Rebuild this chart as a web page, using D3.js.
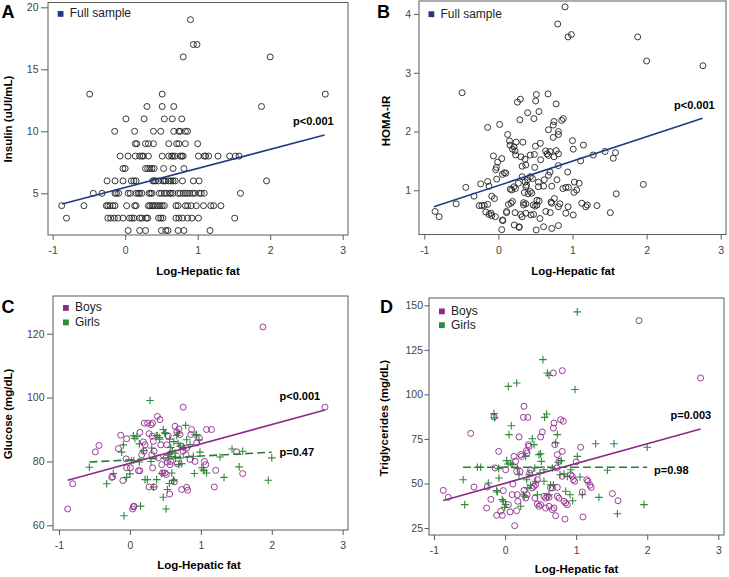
<!DOCTYPE html>
<html>
<head>
<meta charset="utf-8">
<script src="https://cdn.jsdelivr.net/npm/d3@7"></script>
<style>
  body { margin: 0; background: #fff; }
  svg { font-family: "Liberation Sans", Arial, sans-serif; }
</style>
</head>
<body>
<svg id="chart" width="729" height="577"></svg>
<script>
// ---- data ----
var xTicks = [-1, 0, 1, 2, 3];
var insulinTicks = [5, 10, 15, 20];
var homaTicks = [1, 2, 3, 4];
var glucoseTicks = [60, 80, 100, 120];
var tgTicks = [25, 50, 75, 100, 125, 150];

// Insulin is integer valued: [insulin, [log hepatic fat ...]]
var insulinRows = [
  [19, [0.90]],
  [17, [0.94, 0.99]],
  [16, [0.80, 2.00]],
  [13, [-0.49, 0.51, 2.76]],
  [12, [0.30, 0.51, 0.67, 1.88]],
  [11, [0.01, 0.26, 0.54, 0.65, 0.78]],
  [10, [-0.145, 0.13, 0.39, 0.49, 0.67, 0.74, 0.76, 0.83, 0.86]],
  [9, [0.14, 0.16, 0.28, 0.32, 0.39, 0.60, 0.71, 0.74, 0.83, 1.00]],
  [8, [-0.07, 0.04, 0.14, 0.20, 0.23, 0.25, 0.32, 0.51, 0.60, 0.64, 0.66, 0.69, 0.76, 0.78, 0.80, 1.01, 1.09, 1.11, 1.15, 1.28, 1.44, 1.52, 1.57]],
  [7, [-0.03, 0.0, 0.28, 0.31, 0.34, 0.37, 0.40, 0.53, 0.66, 0.81]],
  [6, [-0.25, -0.14, -0.03, 0.085, 0.12, 0.15, 0.38, 0.40, 0.42, 0.46, 0.52, 0.54, 0.56, 0.60, 0.63, 0.66, 0.69, 0.79, 0.94, 1.02, 1.95]],
  [5, [-0.44, -0.32, -0.14, -0.12, -0.09, 0.04, 0.07, 0.15, 0.18, 0.20, 0.23, 0.33, 0.35, 0.37, 0.47, 0.50, 0.54, 0.57, 0.61, 0.63, 0.66, 0.73, 0.76, 0.80, 0.83, 0.86, 0.89, 0.93, 0.96, 1.02, 1.05, 1.09, 1.59]],
  [4, [-0.876, -0.57, -0.26, -0.24, -0.21, -0.17, -0.14, 0.02, 0.13, 0.15, 0.32, 0.34, 0.37, 0.39, 0.42, 0.45, 0.48, 0.51, 0.54, 0.70, 0.73, 0.83, 0.86, 0.91, 0.98, 1.08, 1.18, 1.22, 1.32]],
  [3, [-0.81, -0.24, -0.20, -0.15, -0.10, -0.03, 0.06, 0.09, 0.12, 0.20, 0.23, 0.29, 0.31, 0.46, 0.49, 0.52, 0.70, 0.74, 0.79, 0.86, 0.92, 1.01, 1.51]],
  [2, [0.04, 0.20, 0.28, 0.50, 0.56, 0.59, 0.73, 0.81, 1.17]]
];

var homaPts = [
  [0.90,4.12],[0.80,3.83],[0.94,3.61],[0.985,3.65],[1.88,3.61],[2.0,3.2],[2.76,3.12],
  [-0.49,2.66],[0.257,2.50],[0.296,2.55],[0.512,2.63],[0.503,2.52],[0.670,2.64],[0.78,2.47],
  [0.395,2.32],[0.548,2.34],[0.48,2.22],[0.29,2.20],
  [0.75,2.17],[0.74,2.11],[0.854,2.19],[0.877,2.22],
  [-0.145,2.07],[0.018,2.12],
  [0.81,2.0],[0.675,2.03],[0.74,1.90],[0.81,1.95],
  [0.125,1.95],
  [0.15,1.84],[0.157,1.77],[0.19,1.70],[0.21,1.74],
  [0.24,1.82],[0.33,1.82],[0.50,1.75],[0.566,1.80],[0.486,1.61],
  [1.0,1.845],[1.01,1.70],[1.147,1.77],
  [0.638,1.67],[0.675,1.595],[0.657,1.62],[0.697,1.66],[0.78,1.675],[0.81,1.62],[0.75,1.57],
  [0.224,1.67],[0.233,1.60],[0.305,1.57],[0.359,1.53],[0.43,1.60],
  [-0.067,1.585],[0.046,1.54],[-0.01,1.48],[-0.027,1.39],[-0.036,1.35],
  [0.57,1.52],[0.49,1.39],[0.37,1.43],[0.32,1.41],
  [0.08,1.30],[0.10,1.29],[0.054,1.27],[-0.023,1.19],
  [1.44,1.66],[1.28,1.60],[1.55,1.545],
  [1.11,1.50],[0.935,1.31],[0.81,1.42],[0.697,1.31],[0.675,1.255],
  [0.62,1.18],[0.54,1.14],[0.61,1.07],[0.72,1.07],[0.79,1.18],
  [0.43,1.23],[0.46,1.20],[0.395,1.18],[0.36,1.14],[0.32,1.23],
  [0.27,1.12],[0.23,1.03],[0.18,1.005],[0.21,1.06],[0.16,1.02],
  [0.38,1.085],[0.37,1.06],[0.43,0.98],[0.45,0.95],[0.54,1.06],
  [-0.24,1.11],[-0.145,1.15],[-0.127,1.07],[-0.09,0.90],[-0.054,0.86],
  [-0.44,1.05],[-0.33,0.90],
  [-0.855,0.64],[-0.80,0.55],[-0.57,0.77],
  [-0.26,0.74],[-0.224,0.74],[-0.19,0.745],[-0.145,0.76],
  [-0.17,0.63],[-0.127,0.59],[-0.10,0.61],[-0.04,0.55],[-0.09,0.57],
  [0.055,0.495],[0.06,0.484],[0.045,0.33],
  [0.11,0.64],[0.135,0.76],[0.17,0.78],[0.19,0.81],[0.11,0.62],
  [0.225,0.62],[0.30,0.59],[0.32,0.55],[0.37,0.61],[0.34,0.79],
  [0.215,0.41],[0.28,0.38],[0.28,0.37],
  [0.47,0.75],[0.495,0.73],[0.475,0.59],[0.44,0.58],[0.52,0.75],[0.55,0.82],[0.52,0.83],
  [0.34,0.75],[0.37,0.77],[0.35,0.96],[0.40,0.94],
  [0.51,0.325],[0.61,0.38],[0.72,0.35],[0.81,0.40],
  [0.56,0.52],[0.64,0.64],[0.70,0.62],[0.72,0.78],[0.71,0.80],
  [0.755,0.86],[0.81,0.72],[0.83,0.77],[0.91,0.61],[1.01,0.58],[0.94,0.72],
  [0.87,1.03],[0.91,1.05],[0.945,1.05],[1.025,1.14],[1.09,1.12],[1.056,1.005],[1.02,0.965],
  [1.125,0.78],[1.18,0.72],[1.2,0.75],[1.33,0.74],
  [1.51,0.62],[1.58,1.64],[1.59,0.94],[1.956,1.10]
];

var glucoseBoys = [
  [-0.878,65.1],[-0.807,73.0],[-0.488,83.0],[-0.436,85.0],[-0.257,75.0],[-0.243,75.2],[-0.163,84.0],
  [-0.13,88.2],[-0.046,87.1],[-0.055,80.8],[-0.10,74.0],[-0.046,78.0],[0.006,78.0],[0.039,65.1],
  [0.048,65.8],[0.058,66.0],[0.12,77.1],[0.14,77.1],[0.14,89.1],[0.166,82.1],[0.19,86.1],[0.213,85.2],
  [0.20,83.2],[0.203,92.0],[0.25,92.0],[0.297,91.5],[0.32,92.0],[0.27,88.7],[0.316,87.9],[0.33,86.3],
  [0.34,83.2],[0.307,82.1],[0.27,72.0],[0.34,72.0],[0.32,78.0],[0.387,94.1],[0.424,93.1],[0.434,85.2],
  [0.40,81.1],[0.448,79.0],[0.46,76.4],[0.495,76.4],[0.513,75.9],[0.528,79.8],[0.51,81.1],[0.518,85.2],
  [0.54,88.0],[0.56,69.8],[0.626,73.6],[0.668,79.3],[0.636,91.0],[0.66,89.2],[0.69,90.2],[0.706,88.4],
  [0.73,84.7],[0.75,83.2],[0.80,84.2],[0.79,82.1],[0.75,97.0],[0.80,71.9],[0.814,71.0],[0.73,71.2],
  [0.857,88.4],[0.847,80.6],[0.87,90.0],[0.918,80.0],[0.94,85.8],[0.98,87.3],[1.08,90.0],[1.15,90.0],
  [1.05,80.0],[1.07,79.0],[1.19,72.0],[1.21,77.2],[0.575,80.0],[0.565,79.0],[1.505,83.0],[1.59,76.2],
  [1.876,122.1],[2.75,97.0]
];

var glucoseGirls = [
  [-0.572,78.2],[-0.328,73.0],[-0.234,76.2],[-0.116,82.9],[-0.093,85.2],[-0.083,63.0],[-0.046,75.0],
  [0.0,76.1],[0.02,80.2],[0.055,80.3],[0.10,87.8],[0.133,85.5],[0.133,79.8],[0.15,66.0],[0.19,83.4],
  [0.213,74.3],[0.245,74.3],[0.283,99.1],[0.297,80.0],[0.307,84.2],[0.33,72.0],[0.377,74.3],[0.387,88.1],
  [0.415,87.5],[0.448,76.2],[0.47,68.8],[0.47,90.0],[0.504,88.7],[0.51,65.1],[0.528,71.2],[0.54,82.1],
  [0.575,84.4],[0.59,76.4],[0.60,83.2],[0.61,74.0],[0.636,82.6],[0.66,88.1],[0.68,88.9],[0.706,81.1],
  [0.73,79.3],[0.753,84.4],[0.786,91.3],[0.80,86.8],[0.847,85.3],[0.894,81.6],[0.908,76.2],[0.94,88.4],
  [0.974,86.8],[0.988,82.9],[1.012,78.0],[1.045,77.1],[1.08,76.4],[1.27,81.4],[1.327,75.0],[1.44,83.9],
  [1.54,78.3],[1.59,83.2],[1.95,74.1],[2.0,81.1],
  [0.048,88.0],[0.07,87.2],[0.62,74.2],[0.556,73.1],[0.918,88.3],[1.035,77.3],
  [0.37,88.0],[0.42,87.0],[0.49,89.0],[0.56,87.0],[0.62,86.2],[0.68,85.7],[0.71,84.8],[0.56,82.5],
  [0.58,81.5],[0.64,81.0],[0.69,79.0]
];

var tgBoys = [
  [-0.87,46.1],[-0.80,42.2],[-0.484,78.1],[-0.437,48.0],[-0.25,48.0],[-0.26,36.2],[-0.20,41.1],
  [-0.156,87.3],[-0.142,58.7],[-0.118,32.1],[-0.062,34.4],[-0.09,68.0],[-0.039,32.1],[-0.025,46.0],
  [0.008,57.7],[0.046,38.1],[0.07,34.0],[0.10,43.7],[0.11,49.7],[0.125,65.2],[0.149,62.4],[0.135,26.3],
  [0.163,56.8],[0.172,43.7],[0.18,40.0],[0.196,76.1],[0.22,66.2],[0.23,65.2],[0.21,56.8],[0.163,34.7],
  [0.266,93.3],[0.257,87.1],[0.32,87.1],[0.266,46.1],[0.29,41.8],[0.31,43.7],[0.327,71.8],[0.337,70.8],
  [0.30,68.4],[0.31,67.1],[0.346,55.9],[0.36,57.7],[0.383,47.5],[0.407,48.4],[0.42,41.8],[0.43,49.3],
  [0.454,52.1],[0.454,38.5],[0.477,37.2],[0.50,38.1],[0.50,76.1],[0.524,78.9],[0.547,42.8],[0.57,41.8],
  [0.594,42.8],[0.618,42.2],[0.57,36.2],[0.618,37.2],[0.64,47.5],[0.665,47.5],[0.665,35.3],[0.688,36.2],
  [0.68,112.0],[0.68,81.1],[0.688,83.9],[0.70,71.8],[0.712,31.9],[0.726,58.7],[0.735,47.8],[0.735,42.8],
  [0.758,41.8],[0.735,66.2],[0.758,62.4],[0.805,113.3],[0.782,85.8],[0.82,84.9],[0.805,68.0],[0.805,54.0],
  [0.829,40.0],[0.852,39.0],[0.843,30.0],[0.876,38.1],[0.923,54.9],[0.946,54.0],[0.96,52.1],[0.98,51.2],
  [1.0,62.1],[1.063,70.3],[1.087,45.2],[1.096,31.2],[1.15,52.1],[1.166,51.2],[1.195,49.0],[1.213,47.8],
  [1.51,44.3],[1.589,40.3],[1.884,141.4],[2.75,109.2]
];

var tgGirls = [
  [-0.59,52.1],[-0.568,38.1],[-0.343,59.1],[-0.39,59.1],[-0.236,50.3],[-0.156,89.2],[-0.146,86.8],
  [-0.118,46.0],[-0.11,45.2],[-0.09,58.3],[-0.086,53.1],[-0.04,40.9],[-0.025,40.0],[0.008,38.1],
  [-0.006,36.6],[0.022,62.8],[0.041,60.9],[0.046,104.5],[0.055,77.4],[0.08,61.5],[0.10,60.6],[0.088,82.4],
  [0.163,106.4],[0.172,58.7],[0.196,54.9],[0.22,37.2],[0.257,43.7],[0.276,42.8],[0.29,65.2],[0.304,52.1],
  [0.32,47.5],[0.337,54.9],[0.36,49.0],[0.383,75.1],[0.407,71.8],[0.417,58.7],[0.43,51.2],[0.454,43.7],
  [0.477,66.2],[0.49,55.9],[0.51,62.4],[0.50,66.7],[0.533,119.5],[0.547,57.7],[0.547,51.2],[0.557,87.1],
  [0.585,89.0],[0.594,112.0],[0.618,110.7],[0.618,43.7],[0.64,49.3],[0.665,58.7],[0.68,49.3],[0.712,72.8],
  [0.735,77.4],[0.75,61.9],[0.773,54.9],[0.79,62.8],[0.829,55.3],[0.852,45.6],[0.876,54.0],[0.914,43.7],
  [0.923,57.7],[0.951,40.3],[1.016,146.3],[0.984,102.7],[1.016,65.2],[1.054,53.6],[1.087,43.7],
  [1.274,72.3],[1.32,42.2],[1.532,72.3],[1.44,57.4],[1.58,33.0],[2.0,70.3],[1.954,38.1]
];

// regression fits: [intercept, slope, xStart, xEnd]
var fitInsulin = [5.47, 1.536, -0.87, 2.75];
var fitHoma = [1.081, 0.415, -0.87, 2.755];
var fitGlucoseBoys = [79.42, 6.06, -0.878, 2.75];
var fitGlucoseGirls = [80.49, 1.2, -0.572, 2.0];
var fitTgBoys = [50.13, 11.08, -0.87, 2.75];
var fitTgGirls = [59.1, 0.0, -0.592, 2.0];

var legendFull = ["Full sample"];
var legendSex = ["Boys", "Girls"];

var insulinPts = [];
insulinRows.forEach(function(r) {
  r[1].forEach(function(v) { insulinPts.push([v, r[0]]); });
});

// ---- drawing ----
var navy = "#1f3a80", purple = "#8c2a8c", green = "#2f8a3a", greenLine = "#2c7a38";
var svg = d3.select("#chart");

function drawPanel(cfg) {
  var g = svg.append("g");
  var x = d3.scaleLinear().domain([-1, 3]).range(cfg.xr);
  var y = d3.scaleLinear().domain(cfg.yd).range(cfg.yr);
  var f = cfg.frame;

  g.append("rect")
    .attr("x", f[0]).attr("y", f[1])
    .attr("width", f[2] - f[0]).attr("height", f[3] - f[1])
    .attr("fill", "none").attr("stroke", "#5a5a5a").attr("stroke-width", 1);

  var xa = g.append("g").attr("transform", "translate(0," + f[3] + ")")
    .call(d3.axisBottom(x).tickValues(xTicks).tickSize(5).tickPadding(7)
      .tickFormat(function(d) { return String(d); }));
  var ya = g.append("g").attr("transform", "translate(" + f[0] + ",0)")
    .call(d3.axisLeft(y).tickValues(cfg.yt).tickSize(cfg.ts).tickPadding(cfg.tp)
      .tickFormat(function(d) { return String(d); }));
  [xa, ya].forEach(function(a) {
    a.attr("font-family", null).attr("font-size", null);
    a.select(".domain").remove();
    a.selectAll("line").attr("stroke", "#5a5a5a");
    a.selectAll("text").attr("fill", "#444").style("font-size", "10.5px");
  });

  // axis titles
  g.append("text").attr("x", cfg.xt[0]).attr("y", cfg.xt[1])
    .attr("text-anchor", "middle").style("font-size", "11.5px").style("font-weight", "bold")
    .text("Log-Hepatic fat");
  g.append("text")
    .attr("transform", "translate(" + cfg.ytp[0] + "," + cfg.ytp[1] + ") rotate(-90)")
    .attr("text-anchor", "middle").style("font-size", "11.5px").style("font-weight", "bold")
    .text(cfg.ytitle);

  // panel letter
  g.append("text").attr("x", cfg.letter[0]).attr("y", cfg.letter[1])
    .style("font-size", "18px").style("font-weight", "bold").text(cfg.id);

  // points
  cfg.series.forEach(function(s) {
    if (s.shape === "circle") {
      g.append("g").selectAll("circle").data(s.pts).join("circle")
        .attr("cx", function(d) { return x(d[0]); })
        .attr("cy", function(d) { return y(d[1]); })
        .attr("r", 3).attr("fill", "none")
        .attr("stroke", s.color).attr("stroke-width", 0.9);
    } else {
      g.append("g").selectAll("path").data(s.pts).join("path")
        .attr("d", function(d) {
          var cx = x(d[0]), cy = y(d[1]);
          return "M" + (cx - 3.8) + "," + cy + "H" + (cx + 3.8) + "M" + cx + "," + (cy - 3.8) + "V" + (cy + 3.8);
        })
        .attr("stroke", s.color).attr("stroke-width", 1.1).attr("fill", "none");
    }
  });

  // fitted lines
  cfg.fits.forEach(function(ft) {
    var c = ft.coef;
    var line = d3.line().x(function(d) { return x(d); }).y(function(d) { return y(c[0] + c[1] * d); });
    g.append("path").datum([c[2], c[3]])
      .attr("d", line).attr("fill", "none")
      .attr("stroke", ft.color).attr("stroke-width", 1.6)
      .attr("stroke-dasharray", ft.dash || null);
  });

  // p values
  cfg.pvals.forEach(function(p) {
    g.append("text").attr("x", p.pos[0]).attr("y", p.pos[1])
      .style("font-size", "11px").style("font-weight", "bold").text(p.text);
  });

  // legend
  cfg.legend.forEach(function(l) {
    g.append("rect").attr("x", l.sq[0]).attr("y", l.sq[1]).attr("width", 5.8).attr("height", 5.8)
      .attr("fill", l.color);
    g.append("text").attr("x", l.sq[0] + 12).attr("y", l.sq[1] + 6.2)
      .style("font-size", "12px").attr("fill", "#222").text(l.text);
  });
}

drawPanel({
  id: "A", frame: [48, 2.5, 348, 235], xr: [52.7, 342.7], yd: [5, 20], yr: [193.3, 7.3],
  yt: insulinTicks, ts: 7, tp: 2.5, xt: [198, 274.5], ytp: [11.5, 119], ytitle: "Insulin (uUI/mL)",
  letter: [1.5, 18],
  series: [{ pts: insulinPts, shape: "circle", color: "#222" }],
  fits: [{ coef: fitInsulin, color: navy }],
  pvals: [{ text: "p<0.001", pos: [293, 124.5] }],
  legend: [{ text: legendFull[0], sq: [57.7, 11], color: navy }]
});

drawPanel({
  id: "B", frame: [419, 1, 726, 234.5], xr: [424.3, 720.7], yd: [1, 4], yr: [190.3, 14],
  yt: homaTicks, ts: 5, tp: 3, xt: [573, 274.5], ytp: [389.5, 121], ytitle: "HOMA-IR",
  letter: [377, 18],
  series: [{ pts: homaPts, shape: "circle", color: "#222" }],
  fits: [{ coef: fitHoma, color: navy }],
  pvals: [{ text: "p<0.001", pos: [674, 108.5] }],
  legend: [{ text: legendFull[0], sq: [428.5, 11.3], color: navy }]
});

drawPanel({
  id: "C", frame: [53, 296, 348, 530], xr: [59, 342.7], yd: [60, 120], yr: [525.3, 333.7],
  yt: glucoseTicks, ts: 6, tp: 2.5, xt: [199, 569], ytp: [11.5, 414], ytitle: "Glucose (mg/dL)",
  letter: [1.5, 313],
  series: [
    { pts: glucoseGirls, shape: "cross", color: green },
    { pts: glucoseBoys, shape: "circle", color: purple }
  ],
  fits: [
    { coef: fitGlucoseBoys, color: purple },
    { coef: fitGlucoseGirls, color: greenLine, dash: "8,4" }
  ],
  pvals: [{ text: "p<0.001", pos: [279.5, 400.3] }, { text: "p=0.47", pos: [279.5, 455.5] }],
  legend: [
    { text: legendSex[0], sq: [63, 305], color: purple },
    { text: legendSex[1], sq: [63, 319.5], color: green }
  ]
});

drawPanel({
  id: "D", frame: [429, 298, 724, 535], xr: [434, 718.3], yd: [25, 150], yr: [528, 305.3],
  yt: tgTicks, ts: 4.5, tp: 1.5, xt: [576.5, 572.5], ytp: [387.5, 418], ytitle: "Triglycerides (mg/dL)",
  letter: [380, 313],
  series: [
    { pts: tgGirls, shape: "cross", color: green },
    { pts: tgBoys, shape: "circle", color: purple }
  ],
  fits: [
    { coef: fitTgBoys, color: purple },
    { coef: fitTgGirls, color: greenLine, dash: "8,4" }
  ],
  pvals: [{ text: "p=0.003", pos: [670.5, 419.3] }, { text: "p=0.98", pos: [654, 473.7] }],
  legend: [
    { text: legendSex[0], sq: [439, 308.5], color: purple },
    { text: legendSex[1], sq: [439, 322.3], color: green }
  ]
});
</script>
</body>
</html>
